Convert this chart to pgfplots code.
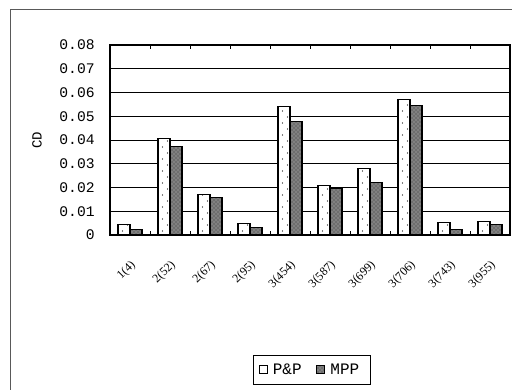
\documentclass[border=0pt]{standalone}
\usepackage{fontspec}
\setmainfont{Liberation Serif}
\newfontfamily\monof{Liberation Mono}
\usepackage{pgfplots}
\pgfplotsset{compat=1.18}
\usetikzlibrary{patterns}
\pgfdeclarepatternformonly{sparsedots}{\pgfpoint{-1pt}{-1pt}}{\pgfpoint{8.5pt}{10pt}}{\pgfpoint{7.5pt}{9pt}}{
  \pgfpathcircle{\pgfpoint{1.9pt}{2.2pt}}{0.45pt}\pgfusepath{fill}
  \pgfpathcircle{\pgfpoint{5.6pt}{6.7pt}}{0.45pt}\pgfusepath{fill}
}
\begin{document}
\begin{tikzpicture}[x=0.75pt,y=0.75pt]
\useasboundingbox (0,0) rectangle (512,390);
\begin{scope}
\clip (0,0) rectangle (512,390);
\draw[black!65, line width=1.1pt] (10.5,-20) rectangle (540,380.5);
\end{scope}
\begin{axis}[
  at={(82.5pt,116.25pt)}, anchor=south west,
  scale only axis, width=300pt, height=142.5pt,
  xmin=-0.5, xmax=9.5, ymin=0, ymax=0.08,
  scaled y ticks=false,
  ybar=0pt, bar width=0.3,
  axis line style={black, line width=0.8pt},
  ytick={0,0.01,0.02,0.03,0.04,0.05,0.06,0.07,0.08},
  yticklabels={0,0.01,0.02,0.03,0.04,0.05,0.06,0.07,0.08},
  y tick label style={font=\monof\fontsize{11}{11}\selectfont, xshift=-8pt},
  ymajorgrids, grid style={black, line width=0.75pt},
  ytick style={draw=none},
  xtick={0,1,2,3,4,5,6,7,8,9},
  xticklabels={1(4),2(52),2(67),2(95),3(454),3(587),3(699),3(706),3(743),3(955)},
  xtick style={draw=none},
  x tick label style={rotate=45, anchor=east, font=\fontsize{9}{9}\selectfont, inner sep=1pt, xshift=-9pt, yshift=-14pt},
  extra x ticks={0.5,1.5,2.5,3.5,4.5,5.5,6.5,7.5,8.5},
  extra x tick labels={},
  extra x tick style={xtick style={draw=black, line width=0.6pt}, major tick length=3pt, tick align=inside, grid=none},
  ylabel={CD},
  ylabel style={font=\monof\fontsize{10.5}{10.5}\selectfont, at={(axis description cs:-0.1825,0.5)}, anchor=center, rotate=0},
  legend style={at={(0.3575,-0.632)}, anchor=north west, draw=black, line width=0.6pt,
    font=\monof\fontsize{12}{12}\selectfont, inner sep=4pt,
    /tikz/every even column/.append style={column sep=7pt},
    nodes={inner xsep=4pt}},
  legend columns=2,
  legend image code/.code={\draw[#1, line width=0.6pt] (0pt,-3pt) rectangle (6pt,3pt);},
]
\addplot[draw=black, line width=0.8pt, fill=white, postaction={pattern=sparsedots}] coordinates {
(0,0.0045) (1,0.0405) (2,0.0172) (3,0.0050) (4,0.0540) (5,0.0208) (6,0.0279) (7,0.0569) (8,0.0051) (9,0.0057)};
\addplot[draw=black, line width=0.8pt, fill=black!50, postaction={pattern=crosshatch dots, pattern color=black!80}] coordinates {
(0,0.0025) (1,0.0374) (2,0.0159) (3,0.0033) (4,0.0476) (5,0.0197) (6,0.0223) (7,0.0547) (8,0.0024) (9,0.0046)};
\legend{P\&P,MPP}
\end{axis}
\end{tikzpicture}
\end{document}
